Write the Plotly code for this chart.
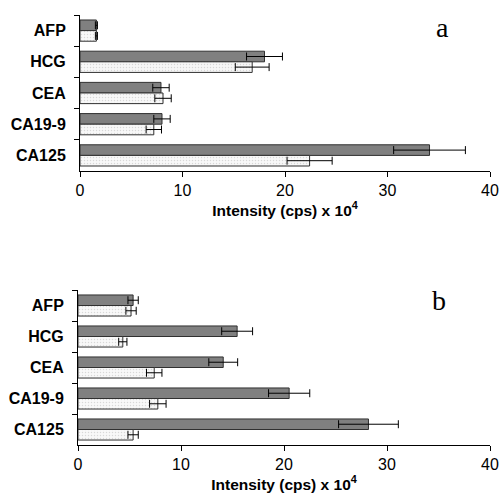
import plotly.graph_objects as go

categories = ["AFP", "HCG", "CEA", "CA19-9", "CA125"]
tick_vals = [0, 10, 20, 30, 40]

a_dark = [1.6, 18.0, 7.9, 8.0, 34.1]
a_dark_err = [0.1, 1.75, 0.8, 0.8, 3.5]
a_light = [1.6, 16.8, 8.1, 7.2, 22.4]
a_light_err = [0.1, 1.65, 0.8, 0.75, 2.2]

b_dark = [5.35, 15.45, 14.1, 20.5, 28.2]
b_dark_err = [0.5, 1.5, 1.4, 2.0, 2.9]
b_light = [5.15, 4.35, 7.4, 7.75, 5.35]
b_light_err = [0.5, 0.4, 0.75, 0.8, 0.5]

fig = go.Figure()

def add_pair(dark, dark_err, light, light_err, xa, ya):
    err = dict(type="data", symmetric=True, color="black", thickness=1, width=4)
    fig.add_trace(go.Bar(
        y=categories, x=dark, orientation="h", xaxis=xa, yaxis=ya,
        marker=dict(color="#808080", line=dict(color="#303030", width=1)),
        error_x=dict(array=dark_err, **err), showlegend=False))
    fig.add_trace(go.Bar(
        y=categories, x=light, orientation="h", xaxis=xa, yaxis=ya,
        marker=dict(color="#f4f4f4", line=dict(color="#303030", width=1),
                    pattern=dict(shape=".", size=3, solidity=0.2,
                                 fgcolor="#b8b8b8", bgcolor="#f8f8f8")),
        error_x=dict(array=light_err, **err), showlegend=False))

add_pair(a_dark, a_dark_err, a_light, a_light_err, "x", "y")
add_pair(b_dark, b_dark_err, b_light, b_light_err, "x2", "y2")

H = 494.0
W = 500.0
xstyle = dict(range=[0, 40], tickvals=tick_vals, showline=True, linecolor="black",
              linewidth=1, ticks="outside", ticklen=5, tickcolor="black",
              showgrid=False, zeroline=False, automargin=False,
              tickfont=dict(family="Liberation Sans, Arial", size=16, color="black"),
              title=dict(text="<b>Intensity (cps) x 10<sup>4</sup></b>",
                         font=dict(family="Liberation Sans, Arial", size=15.5, color="black"),
                         standoff=0))
ystyle = dict(autorange="reversed", showline=True, linecolor="black", linewidth=1,
              ticks="outside", ticklen=5, tickcolor="black", tickson="boundaries",
              showgrid=False, zeroline=False, automargin=False, ticklabelstandoff=10,
              tickfont=dict(family="Liberation Sans, Arial", size=16, color="black",
                            weight="bold"))

fig.update_layout(
    width=500, height=494, margin=dict(l=0, r=0, t=0, b=0),
    paper_bgcolor="white", plot_bgcolor="white",
    barmode="group", bargap=0.32, bargroupgap=0,
    xaxis=dict(domain=[80 / W, 490 / W], anchor="y", **xstyle),
    yaxis=dict(domain=[1 - 171 / H, 1 - 15 / H], anchor="x", **ystyle),
    xaxis2=dict(domain=[78 / W, 490 / W], anchor="y2", **xstyle),
    yaxis2=dict(domain=[1 - 445 / H, 1 - 290 / H], anchor="x2", **ystyle),
    annotations=[
        dict(text="a", x=442 / W, y=1 - 27 / H, xref="paper", yref="paper",
             xanchor="center", yanchor="middle", showarrow=False,
             font=dict(family="Liberation Serif, Times New Roman", size=28, color="black")),
        dict(text="b", x=439 / W, y=1 - 300 / H, xref="paper", yref="paper",
             xanchor="center", yanchor="middle", showarrow=False,
             font=dict(family="Liberation Serif, Times New Roman", size=28, color="black")),
    ],
)

fig.write_html("out.html")
